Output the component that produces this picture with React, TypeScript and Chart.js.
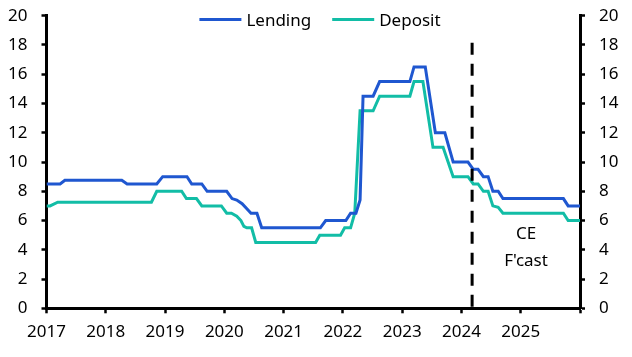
import React, { useEffect, useRef } from 'react';
import { Chart, registerables } from 'chart.js';

Chart.register(...registerables);

// Decimal-year dates and rates (%)
const lendingDates = [2017.0, 2017.23, 2017.31, 2018.27, 2018.36, 2018.86, 2018.96, 2019.37, 2019.45, 2019.62, 2019.71, 2020.04, 2020.13, 2020.21, 2020.30, 2020.38, 2020.45, 2020.55, 2020.63, 2021.62, 2021.71, 2022.05, 2022.13, 2022.22, 2022.29, 2022.34, 2022.51, 2022.62, 2023.13, 2023.20, 2023.39, 2023.56, 2023.72, 2023.86, 2024.11, 2024.20, 2024.28, 2024.37, 2024.45, 2024.53, 2024.62, 2024.70, 2025.72, 2025.80, 2026.0];
const lendingValues = [8.5, 8.5, 8.75, 8.75, 8.5, 8.5, 9.0, 9.0, 8.5, 8.5, 8.0, 8.0, 7.5, 7.4, 7.15, 6.8, 6.5, 6.5, 5.5, 5.5, 6.0, 6.0, 6.5, 6.5, 7.4, 14.5, 14.5, 15.5, 15.5, 16.5, 16.5, 12.0, 12.0, 10.0, 10.0, 9.5, 9.5, 9.0, 9.0, 8.0, 8.0, 7.5, 7.5, 7.0, 7.0];

const depositDates = [2017.0, 2017.06, 2017.19, 2018.77, 2018.86, 2019.28, 2019.36, 2019.53, 2019.62, 2019.95, 2020.04, 2020.12, 2020.21, 2020.28, 2020.33, 2020.38, 2020.46, 2020.53, 2021.54, 2021.61, 2021.96, 2022.03, 2022.13, 2022.20, 2022.29, 2022.51, 2022.62, 2023.13, 2023.20, 2023.35, 2023.52, 2023.69, 2023.86, 2024.11, 2024.20, 2024.28, 2024.37, 2024.45, 2024.53, 2024.62, 2024.70, 2025.72, 2025.80, 2026.0];
const depositValues = [7.0, 7.0, 7.25, 7.25, 8.0, 8.0, 7.5, 7.5, 7.0, 7.0, 6.5, 6.5, 6.3, 6.0, 5.6, 5.5, 5.5, 4.5, 4.5, 5.0, 5.0, 5.5, 5.5, 6.5, 13.5, 13.5, 14.5, 14.5, 15.5, 15.5, 11.0, 11.0, 9.0, 9.0, 8.5, 8.5, 8.0, 8.0, 7.0, 6.9, 6.5, 6.5, 6.0, 6.0];

const yearTicks = [2017, 2018, 2019, 2020, 2021, 2022, 2023, 2024, 2025, 2026];
const yearLabels = ['2017', '2018', '2019', '2020', '2021', '2022', '2023', '2024', '2025', ''];

const seriesNames = ['Lending', 'Deposit'];
const seriesColors = ['#1f57d0', '#12bda6'];

const forecastDate = 2024.18;
const forecastTop = 18.15;
const forecastLabel = ['CE', "F'cast"];
const forecastLabelX = 2025.09;
const forecastLabelY = [5.08, 3.23];

const FONT = "'Noto Sans', sans-serif";
const FONT_SIZE = 17;

const overlayPlugin = {
  id: 'overlay',
  afterDatasetsDraw(chart: any) {
    const { ctx, scales } = chart;
    const x = scales.x;
    const y = scales.y;
    ctx.save();
    // forecast dashed line
    const fx = x.getPixelForValue(forecastDate);
    ctx.strokeStyle = '#000';
    ctx.lineWidth = 3;
    ctx.setLineDash([12, 9]);
    ctx.beginPath();
    ctx.moveTo(fx, y.getPixelForValue(forecastTop));
    ctx.lineTo(fx, y.getPixelForValue(0));
    ctx.stroke();
    ctx.setLineDash([]);
    // forecast label
    ctx.fillStyle = '#000';
    ctx.font = `${FONT_SIZE}px ${FONT}`;
    ctx.textAlign = 'center';
    ctx.textBaseline = 'middle';
    forecastLabel.forEach((t, i) => {
      ctx.fillText(t, x.getPixelForValue(forecastLabelX), y.getPixelForValue(forecastLabelY[i]));
    });
    // legend
    const sample = 42;
    const gapText = 5;
    const gapItem = 21;
    ctx.textAlign = 'left';
    ctx.textBaseline = 'alphabetic';
    const widths = seriesNames.map((n) => ctx.measureText(n).width);
    const total = widths.reduce((a, w) => a + sample + gapText + w, 0) + gapItem * (seriesNames.length - 1);
    let lx = chart.width / 2 + 4 - total / 2;
    const ly = 19.5;
    seriesNames.forEach((n, i) => {
      ctx.strokeStyle = seriesColors[i];
      ctx.lineWidth = 3;
      ctx.beginPath();
      ctx.moveTo(lx, ly);
      ctx.lineTo(lx + sample, ly);
      ctx.stroke();
      ctx.fillStyle = '#000';
      ctx.fillText(n, lx + sample + gapText, ly + 6.5);
      lx += sample + gapText + widths[i] + gapItem;
    });
    ctx.restore();
  },
};

export default function App() {
  const canvasRef = useRef<HTMLCanvasElement | null>(null);

  useEffect(() => {
    const canvas = canvasRef.current;
    if (!canvas) return;
    Chart.defaults.font.family = FONT;
    Chart.defaults.font.size = FONT_SIZE;
    Chart.defaults.color = '#000';

    const axisGrid = {
      display: true,
      drawOnChartArea: false,
      drawTicks: true,
      tickLength: 5,
      tickColor: '#000',
      tickWidth: 2.5,
      color: '#000',
    };

    const zeroPad = (scale: any) => {
      scale.paddingTop = 0;
      scale.paddingBottom = 0;
      scale.paddingLeft = 0;
      scale.paddingRight = 0;
    };

    const chart = new Chart(canvas, {
      type: 'line',
      data: {
        datasets: [
          {
            label: seriesNames[0],
            data: lendingDates.map((d, i) => ({ x: d, y: lendingValues[i] })),
            borderColor: seriesColors[0],
            backgroundColor: seriesColors[0],
            borderWidth: 3,
            pointRadius: 0,
            tension: 0,
            yAxisID: 'y',
          },
          {
            label: seriesNames[1],
            data: depositDates.map((d, i) => ({ x: d, y: depositValues[i] })),
            borderColor: seriesColors[1],
            backgroundColor: seriesColors[1],
            borderWidth: 3,
            pointRadius: 0,
            tension: 0,
            yAxisID: 'y',
          },
        ],
      },
      options: {
        animation: false,
        responsive: false,
        maintainAspectRatio: false,
        layout: { padding: { top: 15.7, left: 0, right: 0, bottom: 0 } },
        plugins: {
          legend: { display: false },
          tooltip: { enabled: false },
        },
        scales: {
          x: {
            type: 'linear',
            min: yearTicks[0],
            max: yearTicks[yearTicks.length - 1],
            afterBuildTicks: (scale: any) => {
              scale.ticks = yearTicks.map((v) => ({ value: v }));
            },
            afterFit: (scale: any) => {
              scale.height = 48.7;
              zeroPad(scale);
            },
            ticks: {
              autoSkip: false,
              maxRotation: 0,
              padding: 9,
              callback: (v: any) => yearLabels[yearTicks.indexOf(Number(v))] ?? '',
            },
            grid: axisGrid,
            border: { display: true, color: '#000', width: 3 },
          },
          y: {
            position: 'left',
            min: 0,
            max: 20,
            ticks: { stepSize: 2, padding: 14 },
            afterFit: (scale: any) => {
              scale.width = 46.5;
              zeroPad(scale);
            },
            grid: axisGrid,
            border: { display: true, color: '#000', width: 3 },
          },
          y2: {
            position: 'right',
            min: 0,
            max: 20,
            ticks: { stepSize: 2, padding: 14 },
            afterFit: (scale: any) => {
              scale.width = 52;
              zeroPad(scale);
            },
            grid: axisGrid,
            border: { display: true, color: '#000', width: 3 },
          },
        },
      } as any,
      plugins: [overlayPlugin],
    });
    return () => chart.destroy();
  }, []);

  return (
    <div style={{ position: 'absolute', left: 0, top: 0, width: 632, height: 357, background: '#fff' }}>
      <canvas ref={canvasRef} width={632} height={357} style={{ display: 'block', width: 632, height: 357 }} />
    </div>
  );
}
